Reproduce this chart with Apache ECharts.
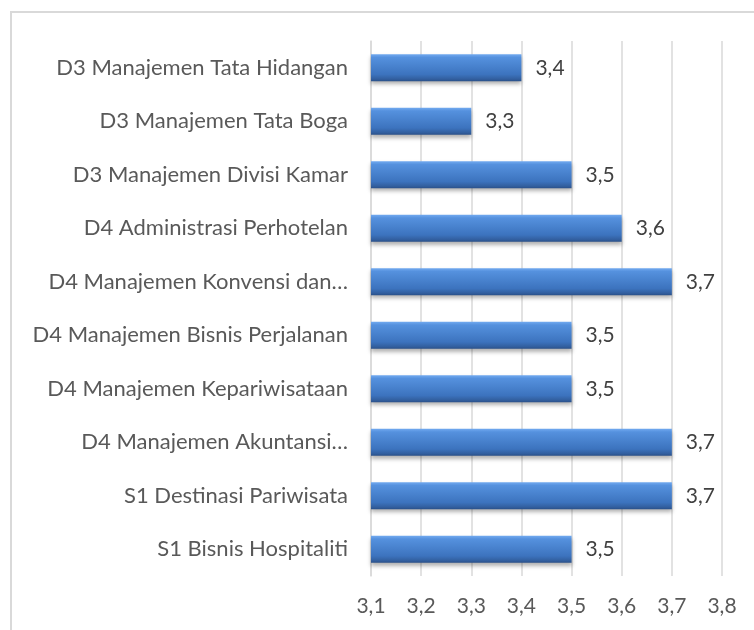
<!DOCTYPE html>
<html>
<head>
<meta charset="utf-8">
<script src="https://cdn.jsdelivr.net/npm/echarts@6/dist/echarts.min.js"></script>
<style>
html, body { margin: 0; padding: 0; background: #fff; }
#chart { width: 754px; height: 630px; }
</style>
</head>
<body>
<div id="chart"></div>
<script>
// categories listed bottom to top (as the category axis draws them)
const programs = [
    'S1 Bisnis Hospitaliti',
    'S1 Destinasi Pariwisata',
    'D4 Manajemen Akuntansi…',
    'D4 Manajemen Kepariwisataan',
    'D4 Manajemen Bisnis Perjalanan',
    'D4 Manajemen Konvensi dan…',
    'D4 Administrasi Perhotelan',
    'D3 Manajemen Divisi Kamar',
    'D3 Manajemen Tata Boga',
    'D3 Manajemen Tata Hidangan'
]
const scores = [3.5, 3.7, 3.7, 3.5, 3.5, 3.7, 3.6, 3.5, 3.3, 3.4]
const axisMin = 3.1
const axisMax = 3.8
const axisStep = 0.1

const fmt = v => v.toFixed(1).replace('.', ',')

const myChart = echarts.init(document.getElementById('chart'))
const option = {
    animation: false,
    textStyle: { fontFamily: 'Lato' },
    graphic: [
        {
            type: 'rect',
            shape: { x: 11, y: 12, width: 800, height: 700 },
            style: { fill: 'none', stroke: '#d9d9d9', lineWidth: 2 },
            silent: true
        }
    ],
    grid: { left: 371, right: 32, top: 41, bottom: 54 },
    xAxis: {
        type: 'value',
        min: axisMin,
        max: axisMax,
        interval: axisStep,
        axisLine: { show: false },
        axisTick: { show: false },
        axisLabel: {
            margin: 20,
            fontSize: 21,
            color: '#595959',
            formatter: v => fmt(v)
        },
        splitLine: { lineStyle: { color: '#d9d9d9', width: 1.5 } }
    },
    yAxis: {
        type: 'category',
        data: programs,
        axisLine: { show: true, lineStyle: { color: '#d9d9d9', width: 1.5 } },
        axisTick: { show: false },
        axisLabel: { margin: 23, fontSize: 22, color: '#595959' }
    },
    series: [
        {
            type: 'bar',
            data: scores,
            barWidth: 27,
            itemStyle: {
                color: new echarts.graphic.LinearGradient(0, 0, 0, 1, [
                    { offset: 0, color: '#72aaf0' },
                    { offset: 0.12, color: '#5591de' },
                    { offset: 0.4, color: '#4a84d0' },
                    { offset: 0.75, color: '#3c73be' },
                    { offset: 0.92, color: '#325f9f' },
                    { offset: 1, color: '#2a5089' }
                ]),
                shadowColor: 'rgba(0,0,0,0.3)',
                shadowBlur: 4,
                shadowOffsetY: 3
            },
            label: {
                show: true,
                position: 'right',
                distance: 14,
                fontSize: 21,
                color: '#404040',
                formatter: p => fmt(p.value)
            }
        }
    ]
}
myChart.setOption(option)
</script>
</body>
</html>
